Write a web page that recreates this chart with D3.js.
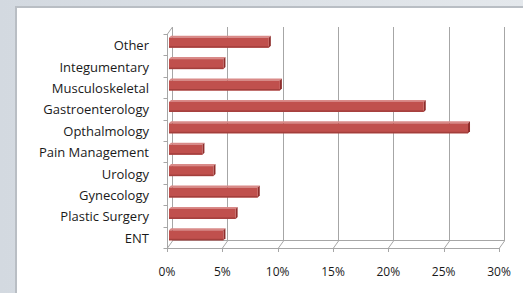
<!DOCTYPE html>
<html>
<head>
<meta charset="utf-8">
<script src="https://cdn.jsdelivr.net/npm/d3@7"></script>
<style>
body { margin: 0; background: #dfe3e8; }
svg { display: block; }
text { font-family: "Open Sans", sans-serif; }
</style>
</head>
<body>
<script>
var categories = ["Other", "Integumentary", "Musculoskeletal", "Gastroenterology", "Opthalmology",
                  "Pain Management", "Urology", "Gynecology", "Plastic Surgery", "ENT"];
var shares = [9.2, 5.1, 10.2, 23.2, 27.2, 3.2, 4.2, 8.2, 6.2, 5.1];
var tickValues = [0, 5, 10, 15, 20, 25, 30];

var W = 523, H = 293;
var depth = {dx: 5, dy: -7};

var svg = d3.select("body").append("svg")
    .attr("width", W)
    .attr("height", H);

// background gradient + white panel
var defs = svg.append("defs");
var bg = defs.append("linearGradient").attr("id", "bg").attr("x1", 0).attr("y1", 0).attr("x2", 1).attr("y2", 0);
bg.append("stop").attr("offset", 0).attr("stop-color", "#d3d9e0");
bg.append("stop").attr("offset", 1).attr("stop-color", "#e4e8ec");
svg.append("rect").attr("width", W).attr("height", H).attr("fill", "url(#bg)");
svg.append("rect").attr("x", 15).attr("y", 6).attr("width", W - 15).attr("height", H - 6).attr("fill", "#b9bec4");
svg.append("rect").attr("x", 17).attr("y", 8).attr("width", W - 17).attr("height", H - 8).attr("fill", "#fff");

var x = d3.scaleLinear().domain([0, 30]).range([167, 499]);
var y = d3.scaleBand().domain(categories).range([34, 248]).paddingInner(0).paddingOuter(0);

var grid = svg.append("g").attr("fill", "none").attr("stroke", "#a6a6a6").attr("stroke-width", 1);

// back wall gridlines with diagonal foot to front floor edge
tickValues.forEach(function(t) {
  var xf = Math.round(x(t)) + 0.5;
  var xb = xf + depth.dx;
  grid.append("path")
    .attr("d", "M" + xb + "," + (y.range()[0] + depth.dy) + "V" + (y.range()[1] + depth.dy) + "L" + xf + "," + y.range()[1]);
});
// back floor edge
grid.append("path")
  .attr("d", "M" + (Math.round(x(0)) + 0.5 + depth.dx) + "," + (y.range()[1] + depth.dy - 0.5) +
             "H" + (Math.round(x(30)) + 0.5 + depth.dx));
// front floor edge
grid.append("path")
  .attr("d", "M" + (Math.round(x(0)) + 0.5) + "," + (y.range()[1] + 0.5) + "H" + (Math.round(x(30)) + 0.5));
// left axis with small top slant
var x0 = Math.round(x(0)) + 0.5;
grid.append("path")
  .attr("d", "M" + x0 + "," + y.range()[1] + "V" + y.range()[0] + "L" + (x0 + depth.dx) + "," + (y.range()[0] + depth.dy));

// category ticks
var bounds = categories.map(function(c) { return y(c); }).concat([y.range()[1]]);
bounds.forEach(function(b) {
  grid.append("path").attr("d", "M" + (x0 - 4) + "," + (Math.round(b) + 0.5) + "H" + x0);
});
// value ticks on floor
tickValues.forEach(function(t) {
  var xf = Math.round(x(t)) + 0.5;
  grid.append("path").attr("d", "M" + xf + "," + y.range()[1] + "v4");
});

// bars (3D boxes)
var barH = 10, off = 2;
var bars = svg.append("g").selectAll("g.bar")
  .data(categories)
  .enter().append("g").attr("class", "bar");

bars.each(function(c, i) {
  var g = d3.select(this);
  var x1 = x(0) + 2, x2 = x(shares[i]);
  var cy = y(c) + y.bandwidth() / 2 - 2;
  var top = cy - barH / 2, bot = cy + barH / 2;
  // top face
  g.append("path")
    .attr("d", "M" + x1 + "," + top + "L" + (x1 + off) + "," + (top - off) + "L" + (x2 + off) + "," + (top - off) + "L" + x2 + "," + top + "Z")
    .attr("fill", "#d98a88");
  // right face
  g.append("path")
    .attr("d", "M" + x2 + "," + top + "L" + (x2 + off) + "," + (top - off) + "L" + (x2 + off) + "," + (bot - off) + "L" + x2 + "," + bot + "Z")
    .attr("fill", "#8e2d2b");
  // front face
  g.append("rect")
    .attr("x", x1).attr("y", top)
    .attr("width", x2 - x1).attr("height", barH)
    .attr("fill", "#c0504d");
  g.append("rect")
    .attr("x", x1).attr("y", bot - 1.5)
    .attr("width", x2 - x1).attr("height", 1.5)
    .attr("fill", "#a33f3c");
});

// category labels
svg.append("g").selectAll("text")
  .data(categories)
  .enter().append("text")
  .attr("x", 149)
  .attr("y", function(c) { return y(c) + y.bandwidth() / 2 + 1; })
  .attr("dy", "0.35em")
  .attr("text-anchor", "end")
  .attr("font-size", 13)
  .attr("fill", "#1a1a1a")
  .text(function(c) { return c; });

// value axis labels
svg.append("g").selectAll("text")
  .data(tickValues)
  .enter().append("text")
  .attr("x", function(t) { return x(t); })
  .attr("y", 272)
  .attr("dy", "0.35em")
  .attr("text-anchor", "middle")
  .attr("font-size", 12)
  .attr("fill", "#1a1a1a")
  .text(function(t) { return t + "%"; });
</script>
</body>
</html>
